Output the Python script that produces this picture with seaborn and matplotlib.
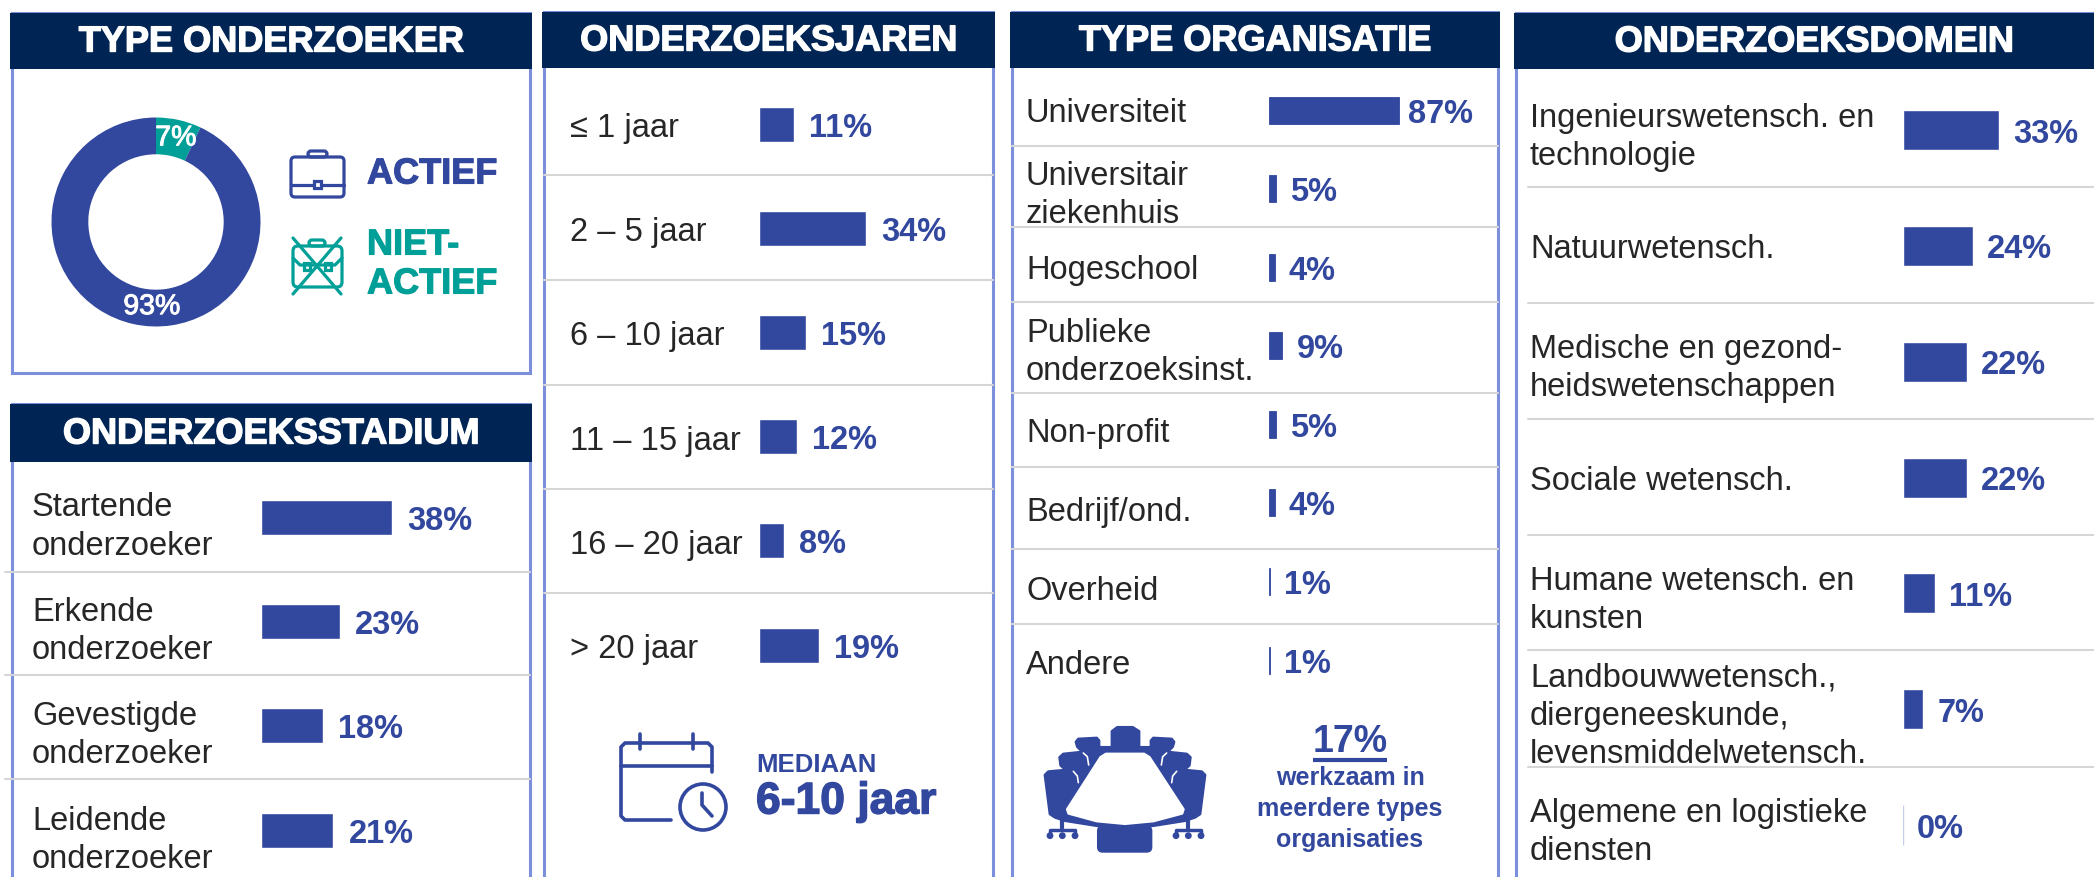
import matplotlib
matplotlib.use('Agg')
import matplotlib.pyplot as plt
import matplotlib.patheffects as pe
from matplotlib.patches import Rectangle, Circle, Polygon, FancyBboxPatch
from matplotlib.transforms import ScaledTranslation
import seaborn as sns

sns.set_theme(style='white')
plt.rcParams['font.family'] = ['Liberation Sans', 'DejaVu Sans']

# data
type_labels = ['NIET-ACTIEF', 'ACTIEF']
type_values = [7, 93]

stadium_labels = ['Startende\nonderzoeker', 'Erkende\nonderzoeker', 'Gevestigde\nonderzoeker', 'Leidende\nonderzoeker']
stadium_values = [38, 23, 18, 21]

jaren_labels = ['≤ 1 jaar', '2 – 5 jaar', '6 – 10 jaar', '11 – 15 jaar', '16 – 20 jaar', '> 20 jaar']
jaren_values = [11, 34, 15, 12, 8, 19]

org_labels = ['Universiteit', 'Universitair\nziekenhuis', 'Hogeschool', 'Publieke\nonderzoeksinst.',
              'Non-profit', 'Bedrijf/ond.', 'Overheid', 'Andere']
org_values = [87, 5, 4, 9, 5, 4, 1, 1]

domein_labels = ['Ingenieurswetensch. en\ntechnologie', 'Natuurwetensch.', 'Medische en gezond-\nheidswetenschappen',
                 'Sociale wetensch.', 'Humane wetensch. en\nkunsten',
                 'Landbouwwetensch.,\ndiergeneeskunde,\nlevensmiddelwetensch.',
                 'Algemene en logistieke\ndiensten']
domein_values = [33, 24, 22, 22, 11, 7, 0]

BLUE = '#32479e'
TEAL = '#009f98'
NAVY = '#002454'
EDGE = '#7b8fdb'
GREY = '#d6d6d6'
DARK = '#262626'
W, H = 2094, 877

fig = plt.figure(figsize=(W / 100, H / 100), dpi=100, facecolor='white')
bg = fig.add_axes([0, 0, 1, 1])
bg.set_xlim(0, W)
bg.set_ylim(H, 0)
bg.axis('off')


def panel(x0, x1, top, head_bot, bottom, title, seps=(), sep_x0=None, size=26):
    # kader iets smaller dan de donkere kop
    bg.add_patch(Rectangle((x0 + 2, top), x1 - x0 - 4, bottom - top, fc='white', ec=EDGE, lw=2.2, zorder=1))
    bg.add_patch(Rectangle((x0, top), x1 - x0, head_bot - top, fc=NAVY, ec='none', zorder=2))
    t = bg.text((x0 + x1) / 2, (top + head_bot) / 2 + 1, title, color='white', fontsize=size, weight='bold',
                ha='center', va='center', zorder=3)
    t.set_path_effects([pe.withStroke(linewidth=1.0, foreground='white')])
    for y in seps:
        bg.plot([x0 + 2 if sep_x0 is None else sep_x0, x1 - 2], [y, y], color=GREY, lw=1.5, zorder=1.5)


def bars(labels, values, x0, x_right, first, last, scale, bar_h, label_x, pad, dy=None, size=23.5, ls=1.3):
    # een rij = step pixels, x-as in procent
    n = len(values)
    step = (last - first) / (n - 1)
    top = first - step / 2
    bottom = last + step / 2
    ax = fig.add_axes([x0 / W, 1 - bottom / H, (x_right - x0) / W, (bottom - top) / H])
    ax.patch.set_alpha(0)
    sns.barplot(x=values, y=labels, ax=ax, color=BLUE, saturation=1, width=bar_h / step, orient='h')
    ax.set_xlim(0, (x_right - x0) / scale)
    ax.set_ylim(n - 0.5, -0.5)
    ax.set_xticks([])
    ax.set_xlabel('')
    ax.set_ylabel('')
    sns.despine(ax=ax, left=True, bottom=True)
    ax.tick_params(axis='y', length=0, pad=(x0 - label_x) * 0.72, labelsize=size, labelcolor=DARK)
    for i, t in enumerate(ax.get_yticklabels()):
        t.set_ha('left')
        t.set_multialignment('left')
        t.set_linespacing(ls)
        if dy is not None and dy[i]:
            t.set_transform(t.get_transform() + ScaledTranslation(0, -dy[i] / 100, fig.dpi_scale_trans))
    vals = ax.bar_label(ax.containers[0], labels=[f'{v}%' for v in values], padding=pad * 0.72,
                        color=BLUE, fontsize=23.5, weight='bold')
    for v in vals:
        v.xyann = (v.xyann[0], -2.9)
    return ax, vals


# panelen
panel(10, 532, 13, 69, 373, 'TYPE ONDERZOEKER')
panel(10, 532, 404, 462, 890, 'ONDERZOEKSSTADIUM', seps=[572, 675, 779], sep_x0=5)
panel(542, 995, 12, 68, 890, 'ONDERZOEKSJAREN', seps=[175, 280, 385, 489, 593])
panel(1010, 1500, 12, 68, 890, 'TYPE ORGANISATIE', seps=[146, 227, 302, 393, 467, 549, 624])
panel(1514, 2114, 13, 69, 890, 'ONDERZOEKSDOMEIN', seps=[187, 303, 419, 535, 650, 767], sep_x0=1528)

# donut
r_out = 104.5
dcx, dcy = 156, 222
ax_d = fig.add_axes([(dcx - r_out) / W, 1 - (dcy + r_out) / H, 2 * r_out / W, 2 * r_out / H])
ax_d.pie(type_values, colors=[TEAL, BLUE], startangle=90, counterclock=False, radius=1,
         wedgeprops=dict(width=1 - 67.7 / r_out, linewidth=0))
ax_d.set_xlim(-1, 1)
ax_d.set_ylim(-1, 1)
stroke = [pe.withStroke(linewidth=0.7, foreground='white')]
ax_d.text(0.19, 0.80, f'{type_values[0]}%', color='white', fontsize=20.5, ha='center', va='center', path_effects=stroke)
ax_d.text(-0.04, -0.815, f'{type_values[1]}%', color='white', fontsize=20.5, ha='center', va='center', path_effects=stroke)

# legenda
for txt, y, c in [('ACTIEF', 174, BLUE), ('NIET-', 245, TEAL), ('ACTIEF', 284, TEAL)]:
    bg.text(367, y, txt, color=c, fontsize=26, weight='bold', va='center', ha='left',
            path_effects=[pe.withStroke(linewidth=0.8, foreground=c)])

# koffer
lw = 2.3
bg.add_patch(FancyBboxPatch((291, 157), 53, 40, boxstyle='round,pad=0,rounding_size=4', fc='none', ec=BLUE, lw=lw, zorder=3))
bg.add_patch(FancyBboxPatch((308, 151), 19, 6, boxstyle='round,pad=0,rounding_size=3', fc='none', ec=BLUE, lw=lw, zorder=3))
bg.plot([291, 344], [185, 185], color=BLUE, lw=lw, zorder=3)
bg.add_patch(Rectangle((314, 181), 7, 7, fc='white', ec=BLUE, lw=lw, zorder=4))

# koffer doorgestreept
bg.add_patch(FancyBboxPatch((293, 246), 49, 41, boxstyle='round,pad=0,rounding_size=5', fc='none', ec=TEAL, lw=lw, zorder=3))
bg.add_patch(FancyBboxPatch((309, 240), 16, 6, boxstyle='round,pad=0,rounding_size=3', fc='none', ec=TEAL, lw=lw, zorder=3))
bg.plot([293, 300, 335, 342], [258, 265, 265, 258], color=TEAL, lw=lw, zorder=3)
bg.add_patch(Rectangle((304, 263), 6, 7, fc='none', ec=TEAL, lw=lw, zorder=3))
bg.add_patch(Rectangle((325, 263), 6, 7, fc='none', ec=TEAL, lw=lw, zorder=3))
bg.plot([293, 341], [238, 294], color=TEAL, lw=lw, zorder=4)
bg.plot([341, 293], [238, 294], color=TEAL, lw=lw, zorder=4)

# balken
bars(stadium_labels, stadium_values, 261, 525, 517, 830, 3.45, 35, 32, 15, dy=[3, 3, 3, 3])
bars(jaren_labels, jaren_values, 759, 990, 124, 645, 3.15, 35, 570, 15, dy=[1, 1, 1, 1, 1, 1])
ax_org, org_vals = bars(org_labels, org_values, 1269, 1495, 110, 660, 1.49, 27, 1026, 14, dy=[0, 0, 0, 0, 6, 6, 7, 2])
org_vals[0].xyann = (7, org_vals[0].xyann[1])
for p in ax_org.patches:
    p.set_edgecolor(BLUE)
    p.set_linewidth(0.6)
ax_dom, dom_vals = bars(domein_labels, domein_values, 1903, 2090, 130, 825, 2.91, 40, 1530, 14)
ax_dom.patches[-1].set_edgecolor('#c6cde8')
ax_dom.patches[-1].set_linewidth(1)

# kalender + klok
lw = 2.6
kw = dict(color=BLUE, lw=lw, solid_capstyle='round', solid_joinstyle='round', zorder=3)
bg.plot([671, 625, 621, 621, 625, 708, 712, 712], [820, 820, 816, 747, 743, 743, 747, 772], **kw)
bg.plot([621, 712], [766, 766], **kw)
bg.plot([640, 640], [734, 749], **kw)
bg.plot([693, 693], [734, 749], **kw)
bg.add_patch(Circle((703, 807), 23, fc='white', ec=BLUE, lw=lw, zorder=3))
bg.plot([702, 702, 712], [793, 805, 816], **kw)
bg.text(756, 765, 'MEDIAAN', color=BLUE, fontsize=18.5, weight='bold', ha='left', va='center')
bg.text(756, 802, '6-10 jaar', color=BLUE, fontsize=32, weight='bold', ha='left', va='center',
        path_effects=[pe.withStroke(linewidth=1.0, foreground=BLUE)])


# tafel-icoon, coordinaten in pixels van het icoon
def P(pts):
    return [(1000 + a / 3, 660 + b / 3) for a, b in pts]


def shape(pts, fc=BLUE, z=3, lw=2):
    bg.add_patch(Polygon(P(pts), closed=True, fc=fc, ec=fc, lw=lw, joinstyle='round', zorder=z))


half = [(375, 262), (300, 262), (297, 270), (297, 242), (290, 234), (235, 237), (228, 246), (232, 260), (248, 276),
        (190, 282), (179, 292), (182, 316), (198, 330), (145, 335), (135, 345), (150, 462), (165, 472), (195, 482),
        (290, 497), (375, 503)]
shape(half)
shape([(750 - a, b) for a, b in half])
shape([(336, 270), (336, 214), (352, 202), (398, 202), (417, 214), (417, 270)])
shape([(318, 282), (432, 282), (448, 292), (550, 448), (546, 460), (460, 483), (375, 491), (290, 483), (206, 460),
       (202, 448), (302, 292)], fc='white', z=5)
# witte spleten tussen de stoelen
for pts in ([(250, 279), (262, 290), (266, 315)], [(220, 334), (232, 348), (235, 368)]):
    for s in (1, -1):
        xy = P([(a if s == 1 else 750 - a, b) for a, b in pts])
        bg.plot(*zip(*xy), color='white', lw=1.2, zorder=4)
bg.add_patch(FancyBboxPatch((1000 + 293 / 3, 660 + 498 / 3), 162 / 3, 78 / 3,
                            boxstyle='round,pad=0,rounding_size=5', fc=BLUE, ec=BLUE, lw=1, zorder=3))
for mx in [0, 378]:
    a, b = 187 + mx, 527
    bg.plot(*zip(*P([(a, 470), (a, 505)])), color=BLUE, lw=3, zorder=3)
    bg.plot(*zip(*P([(150 + mx, 527), (150 + mx, 510), (225 + mx, 510), (225 + mx, 527)])), color=BLUE, lw=2.5, zorder=3)
    for fx in [150, 187, 225]:
        bg.add_patch(Circle((1000 + (fx + mx) / 3, 660 + b / 3), 3.4, fc=BLUE, ec='none', zorder=3))

bg.text(1350, 742, '17%', color=BLUE, fontsize=27, weight='bold', ha='center', va='center')
bg.plot([1313, 1387], [760, 760], color=BLUE, lw=3, zorder=3, solid_capstyle='butt')
bg.text(1350, 778, 'werkzaam in', color=BLUE, fontsize=18, weight='bold', ha='center', va='center')
bg.text(1350, 809, 'meerdere types', color=BLUE, fontsize=18, weight='bold', ha='center', va='center')
bg.text(1350, 840, 'organisaties', color=BLUE, fontsize=18, weight='bold', ha='center', va='center')

fig.savefig('out.png', dpi=100)
